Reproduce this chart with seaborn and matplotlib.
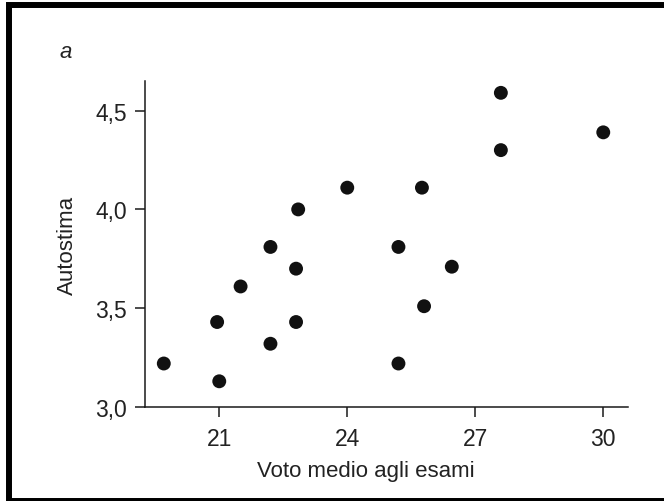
import matplotlib
matplotlib.use("Agg")
import matplotlib.pyplot as plt
from matplotlib.patches import Rectangle
from matplotlib.ticker import FixedLocator, FuncFormatter
import seaborn as sns
import pandas as pd

# Voto medio agli esami (x) e autostima (y) per ciascuno studente
voto = [19.7, 21.0, 20.95, 21.5, 22.2, 22.2, 22.85, 22.8, 22.8, 24.0,
        27.6, 30.0, 27.6, 25.75, 25.2, 26.45, 25.8, 25.2]
autostima = [3.22, 3.13, 3.43, 3.61, 3.81, 3.32, 4.00, 3.70, 3.43, 4.11,
             4.59, 4.39, 4.30, 4.11, 3.81, 3.71, 3.51, 3.22]

x_ticks = [21, 24, 27, 30]
y_ticks = [3.0, 3.5, 4.0, 4.5]

df = pd.DataFrame({"Voto medio agli esami": voto, "Autostima": autostima})

sns.set_style("ticks")
plt.rcParams["font.family"] = ["Liberation Sans", "DejaVu Sans"]
plt.rcParams["font.size"] = 16

text_col = "#222222"
line_col = "#1a1a1a"

fig = plt.figure(figsize=(6.64, 5.02), dpi=100)
ax = fig.add_axes([0.2184, 0.1873, 0.7274, 0.6494])

sns.scatterplot(data=df, x="Voto medio agli esami", y="Autostima", ax=ax,
                color="#111111", s=100, edgecolor="none", linewidth=0)

ax.set_xlim(19.26, 30.58)
ax.set_ylim(3.0, 4.65)
ax.xaxis.set_major_locator(FixedLocator(x_ticks))
ax.yaxis.set_major_locator(FixedLocator(y_ticks))
ax.yaxis.set_major_formatter(FuncFormatter(lambda v, p: f"{v:.1f}".replace(".", ",")))
ax.xaxis.set_major_formatter(FuncFormatter(lambda v, p: f"{v:.0f}"))

for side in ("top", "right"):
    ax.spines[side].set_visible(False)
for side in ("left", "bottom"):
    ax.spines[side].set_linewidth(1.1)
    ax.spines[side].set_color(line_col)

ax.tick_params(axis="both", length=7.5, width=1.1, color=line_col,
               labelsize=16.5, labelcolor=text_col)
ax.tick_params(axis="x", pad=7)
ax.tick_params(axis="y", pad=5.5)

ax.set_xlabel("Voto medio agli esami", fontsize=16, color=text_col)
ax.set_ylabel("Autostima", fontsize=16, color=text_col)
ax.xaxis.set_label_coords(0.4576, -0.163)
ax.yaxis.set_label_coords(-0.139, 0.5)

fig.text(66 / 664, 1 - 53 / 502, "a", fontsize=16, style="italic",
         color=text_col, ha="center", va="center")

# Cornice esterna
fig.patches.append(Rectangle((9 / 664, 0.0), 1.02, 1 - 6 / 502,
                             transform=fig.transFigure, fill=False,
                             edgecolor="black", linewidth=4.3))

fig.savefig("out.png", dpi=100, facecolor="white")
